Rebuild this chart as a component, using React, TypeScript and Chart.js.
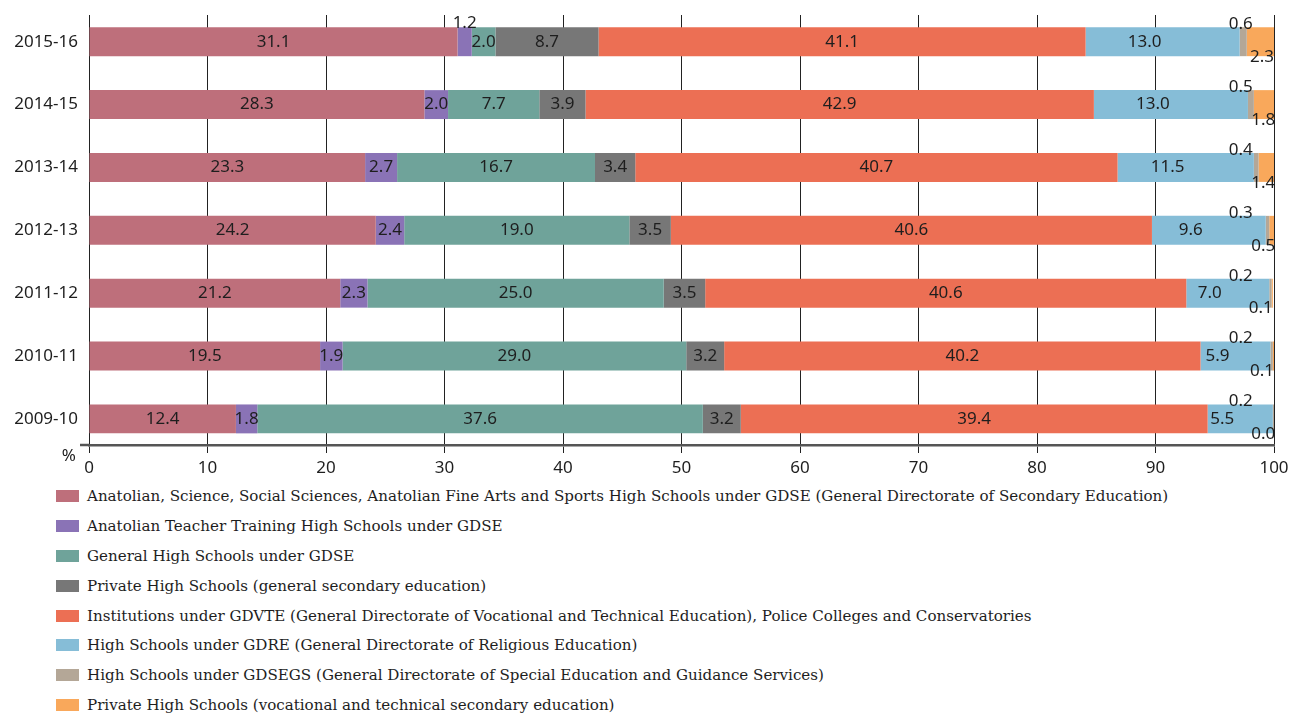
import React, { useEffect, useRef } from "react";
import { Chart, registerables } from "chart.js";

Chart.register(...registerables);

// School years, top row first
const years = ["2015-16", "2014-15", "2013-14", "2012-13", "2011-12", "2010-11", "2009-10"];

// Share of secondary enrolment by school type (%)
const anatolianScience = [31.1, 28.3, 23.3, 24.2, 21.2, 19.5, 12.4];
const anatolianTeacher = [1.2, 2.0, 2.7, 2.4, 2.3, 1.9, 1.8];
const generalHigh = [2.0, 7.7, 16.7, 19.0, 25.0, 29.0, 37.6];
const privateGeneral = [8.7, 3.9, 3.4, 3.5, 3.5, 3.2, 3.2];
const gdvteInstitutions = [41.1, 42.9, 40.7, 40.6, 40.6, 40.2, 39.4];
const gdreSchools = [13.0, 13.0, 11.5, 9.6, 7.0, 5.9, 5.5];
const gdsegsSchools = [0.6, 0.5, 0.4, 0.3, 0.2, 0.2, 0.2];
const privateVocational = [2.3, 1.8, 1.4, 0.5, 0.1, 0.1, 0.0];

const seriesNames = [
  "Anatolian, Science, Social Sciences, Anatolian Fine Arts and Sports High Schools under GDSE (General Directorate of Secondary Education)",
  "Anatolian Teacher Training High Schools under GDSE",
  "General High Schools under GDSE",
  "Private High Schools (general secondary education)",
  "Institutions under GDVTE (General Directorate of Vocational and Technical Education), Police Colleges and Conservatories",
  "High Schools under GDRE (General Directorate of Religious Education)",
  "High Schools under GDSEGS (General Directorate of Special Education and Guidance Services)",
  "Private High Schools (vocational and technical secondary education)",
];

const seriesValues = [
  anatolianScience,
  anatolianTeacher,
  generalHigh,
  privateGeneral,
  gdvteInstitutions,
  gdreSchools,
  gdsegsSchools,
  privateVocational,
];

const seriesColors = ["#BE6F7B", "#8A73B6", "#6FA39A", "#777777", "#EC6F54", "#86BDD7", "#B4A797", "#F9A85B"];

// Where each series puts its value label
const labelPlacement = ["inside", "auto", "inside", "inside", "inside", "inside", "above", "below"];
const labelShift = [0, 0, 0, 0, 0, -18, 0, 0];

const TEXT = "#1e1e1e";
const SANS = '"Noto Sans", "Liberation Sans", sans-serif';

const segmentLabels = {
  id: "segmentLabels",
  afterDatasetsDraw(chart: any) {
    const { ctx } = chart;
    const xScale = chart.scales.x;
    ctx.save();
    ctx.font = `17px ${SANS}`;
    ctx.fillStyle = TEXT;
    ctx.textBaseline = "middle";
    chart.data.datasets.forEach((ds: any, di: number) => {
      const meta = chart.getDatasetMeta(di);
      meta.data.forEach((bar: any, j: number) => {
        const v = ds.data[j] as number;
        const text = v.toFixed(1);
        const { x, y, base, height } = bar.getProps(["x", "y", "base", "height"], true);
        const top = y - height / 2;
        const bottom = y + height / 2;
        const mid = (x + base) / 2;
        let mode = labelPlacement[di];
        if (mode === "auto") mode = v < 1.5 ? "above-center" : "inside";
        if (mode === "inside") {
          ctx.textAlign = "center";
          ctx.fillText(text, mid + labelShift[di], y);
        } else if (mode === "above-center") {
          ctx.textAlign = "center";
          ctx.fillText(text, mid, top - 4);
        } else if (mode === "above") {
          ctx.textAlign = "center";
          ctx.fillText(text, Math.min(mid, xScale.getPixelForValue(97.2)), top - 3);
        } else if (mode === "below") {
          ctx.textAlign = "right";
          ctx.fillText(text, x, bottom + 1);
        }
      });
    });
    ctx.restore();
  },
};

const axisExtras = {
  id: "axisExtras",
  afterDraw(chart: any) {
    const { ctx, chartArea } = chart;
    ctx.save();
    ctx.strokeStyle = "#555";
    ctx.lineWidth = 2.5;
    ctx.beginPath();
    ctx.moveTo(chartArea.left - 9, chartArea.bottom);
    ctx.lineTo(chartArea.left, chartArea.bottom);
    ctx.stroke();
    ctx.font = `17px ${SANS}`;
    ctx.fillStyle = TEXT;
    ctx.textAlign = "right";
    ctx.textBaseline = "middle";
    ctx.fillText("%", chartArea.left - 13, chartArea.bottom + 11);
    ctx.restore();
  },
};

export default function App() {
  const canvasRef = useRef<HTMLCanvasElement | null>(null);

  useEffect(() => {
    if (!canvasRef.current) return;
    const chart = new Chart(canvasRef.current, {
      type: "bar",
      data: {
        labels: years,
        datasets: seriesValues.map((vals, i) => ({
          label: seriesNames[i],
          data: vals,
          backgroundColor: seriesColors[i],
          borderWidth: 0,
          barPercentage: 0.46,
          categoryPercentage: 1,
          stack: "share",
        })),
      },
      options: {
        indexAxis: "y",
        responsive: true,
        maintainAspectRatio: false,
        animation: false,
        layout: { padding: { top: 15, right: 32, left: 0, bottom: 0 } },
        plugins: {
          legend: { display: false },
          tooltip: { enabled: false },
        },
        scales: {
          x: {
            stacked: true,
            min: 0,
            max: 100,
            ticks: {
              stepSize: 10,
              color: TEXT,
              font: { family: SANS, size: 17 },
              padding: 5,
            },
            grid: {
              color: "#222",
              lineWidth: 1,
              tickLength: 8,
              drawTicks: true,
            },
            border: { display: true, color: "#555", width: 2.5 },
            afterFit: (scale: any) => {
              scale.height = 35;
              scale.paddingLeft = 0;
              scale.paddingRight = 0;
            },
          },
          y: {
            stacked: true,
            offset: true,
            ticks: {
              color: TEXT,
              font: { family: SANS, size: 17 },
              padding: 11,
            },
            grid: { display: false, drawTicks: false },
            border: { display: false },
            afterFit: (scale: any) => {
              scale.width = 89;
              scale.paddingTop = 0;
              scale.paddingBottom = 0;
            },
            afterBuildTicks: (scale: any) => {
              // leave a little less room above the first row and below the last
              scale._startValue = -0.425;
              scale._valueRange = years.length - 1 + 0.84;
            },
          },
        },
      },
      plugins: [segmentLabels, axisExtras],
    });
    return () => chart.destroy();
  }, []);

  return (
    <div
      style={{
        position: "absolute",
        left: 0,
        top: 0,
        width: 1306,
        height: 718,
        background: "#fff",
        overflow: "hidden",
      }}
    >
      <div style={{ position: "absolute", left: 0, top: 0, width: 1306, height: 480 }}>
        <canvas ref={canvasRef} />
      </div>
      <div
        style={{
          position: "absolute",
          left: 56,
          top: 481,
          fontFamily: '"DejaVu Serif", serif',
          fontSize: 15.1,
          color: TEXT,
        }}
      >
        {seriesNames.map((name, i) => (
          <div key={name} style={{ height: 29.9, display: "flex", alignItems: "center", whiteSpace: "nowrap" }}>
            <span
              style={{
                display: "inline-block",
                width: 23,
                height: 12,
                background: seriesColors[i],
                marginRight: 8,
                flex: "none",
              }}
            />
            <span>{name}</span>
          </div>
        ))}
      </div>
    </div>
  );
}
